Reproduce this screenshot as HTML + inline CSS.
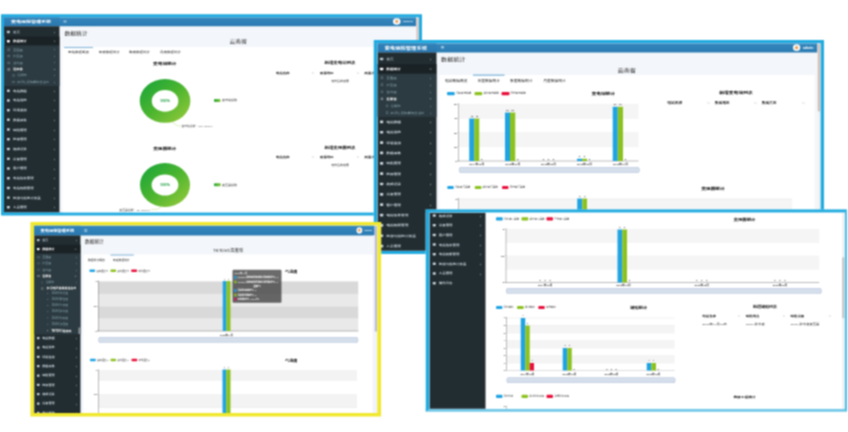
<!DOCTYPE html>
<html lang="zh-CN"><head><meta charset="utf-8"><title>变电运检管理系统</title><style>
html,body{margin:0;padding:0;}
body{width:848px;height:432px;overflow:hidden;background:#fff;position:relative;font-family:"Liberation Sans","Noto Sans CJK SC",sans-serif;}
#o{position:absolute;left:0;top:0;width:848px;height:432px;background:#fff;overflow:hidden;filter:url(#bl);}
#w{position:absolute;left:0;top:0;width:3392px;height:1728px;transform:scale(.25);transform-origin:0 0;}
.p{position:absolute;overflow:hidden;background:#fff;box-sizing:content-box;}
.r{position:absolute;display:block;}
.t{position:absolute;white-space:nowrap;line-height:1;display:block;}
</style></head>
<body>
<svg width="0" height="0" style="position:absolute"><filter id="bl" x="0" y="0" width="100%" height="100%" color-interpolation-filters="sRGB"><feConvolveMatrix order="3" kernelMatrix="1 2 1 2 4 2 1 2 1" divisor="16" edgeMode="duplicate" preserveAlpha="true"/></filter></svg>
<div id="o">
<div id="w">
<div class="p" style="left:4px;top:57px;width:1659px;height:779px;border-style:solid;border-color:#22abe0;border-width:13px 13px 13px 12px;z-index:1">
<div class="r" style="left:222.4px;top:35.2px;width:1425.6px;height:746.8px;background:#f3f6fa;"></div>
<div class="r" style="left:234px;top:118px;width:1404px;height:664px;background:#fff;"></div>
<div class="r" style="left:0px;top:-2px;width:1648.8px;height:37.2px;background:linear-gradient(#3587bd,#2b7bb2);"></div>
<div class="r" style="left:0px;top:-2px;width:222.4px;height:37.2px;background:linear-gradient(#3283b9,#2977ae);"></div>
<span class="t" style="left:28px;top:10px;font-size:15.38px;color:#fff;font-weight:bold;transform-origin:0 50%;transform:scaleX(1.3);">变电运检管理系统</span>
<div class="r" style="left:238px;top:10.72px;width:12px;height:1.76px;background:#fff;"></div>
<div class="r" style="left:238px;top:15.12px;width:12px;height:1.76px;background:#fff;"></div>
<div class="r" style="left:238px;top:19.52px;width:12px;height:1.76px;background:#fff;"></div>
<div class="r" style="left:1556.47px;top:2.61px;width:29.46px;height:26.78px;background:#fbfbfb;border-radius:50%;"></div>
<div class="r" style="left:1565.01px;top:9.3px;width:12.37px;height:12.72px;background:#eba35a;border-radius:50%;"></div>
<span class="t" style="left:1596px;top:10px;font-size:10.07px;color:#fff;font-weight:bold;transform-origin:0 50%;transform:scaleX(1.3);">admin</span>
<div class="r" style="left:1648.8px;top:-2px;width:11.2px;height:784px;background:#f1f1f1;"></div>
<div class="r" style="left:1650px;top:-0.4px;width:8.8px;height:410.4px;background:#d4bfb9;border-radius:4px;"></div>
<div class="r" style="left:0px;top:35.2px;width:222.4px;height:746.8px;background:#222d32;"></div>
<div class="r" style="left:11.73px;top:53.03px;width:11.73px;height:9.94px;background:#b8c7ce;border-radius:1.6px;"></div>
<span class="t" style="left:36.4px;top:54px;font-size:10.62px;color:#b8c7ce;transform-origin:0 50%;transform:scaleX(1.3);">首页</span>
<span class="t" style="left:201.6px;top:54px;font-size:11.68px;color:#b8c7ce;transform:translateX(-50%) scaleX(1.3);">‹</span>
<div class="r" style="left:0px;top:76.4px;width:222.4px;height:36px;background:#1a2226;"></div>
<div class="r" style="left:0px;top:76.4px;width:2.4px;height:36px;background:#3c8dbc;"></div>
<div class="r" style="left:11.73px;top:89.83px;width:11.73px;height:9.94px;background:#fff;border-radius:1.6px;"></div>
<span class="t" style="left:36.4px;top:90px;font-size:10.62px;color:#fff;font-weight:bold;transform-origin:0 50%;transform:scaleX(1.3);">数据统计</span>
<span class="t" style="left:201.6px;top:87.21px;font-size:15.18px;color:#fff;transform:translateX(-50%) rotate(-90deg);">‹</span>
<div class="r" style="left:0px;top:112.4px;width:222.4px;height:161.6px;background:#2c3b41;"></div>
<div class="r" style="left:13.16px;top:123.16px;width:10.49px;height:10.49px;background:transparent;border-radius:50%;box-shadow:inset 0 0 0 1.56px #8aa4af;"></div>
<span class="t" style="left:36.4px;top:126px;font-size:10.08px;color:#8aa4af;transform-origin:0 50%;transform:scaleX(1.3);">全国级</span>
<span class="t" style="left:201.6px;top:126px;font-size:11.09px;color:#8aa4af;transform:translateX(-50%) scaleX(1.3);">‹</span>
<div class="r" style="left:13.16px;top:149.56px;width:10.49px;height:10.49px;background:transparent;border-radius:50%;box-shadow:inset 0 0 0 1.56px #8aa4af;"></div>
<span class="t" style="left:36.4px;top:150px;font-size:10.08px;color:#8aa4af;transform-origin:0 50%;transform:scaleX(1.3);">片区级</span>
<span class="t" style="left:201.6px;top:154px;font-size:11.09px;color:#8aa4af;transform:translateX(-50%) scaleX(1.3);">‹</span>
<div class="r" style="left:13.16px;top:175.56px;width:10.49px;height:10.49px;background:transparent;border-radius:50%;box-shadow:inset 0 0 0 1.56px #8aa4af;"></div>
<span class="t" style="left:36.4px;top:178px;font-size:10.08px;color:#8aa4af;transform-origin:0 50%;transform:scaleX(1.3);">省份级</span>
<span class="t" style="left:201.6px;top:178px;font-size:11.09px;color:#8aa4af;transform:translateX(-50%) scaleX(1.3);">‹</span>
<div class="r" style="left:13.16px;top:202.76px;width:10.49px;height:10.49px;background:transparent;border-radius:50%;box-shadow:inset 0 0 0 1.56px #fff;"></div>
<span class="t" style="left:36.4px;top:202px;font-size:10.08px;color:#fff;font-weight:bold;transform-origin:0 50%;transform:scaleX(1.3);">云南省</span>
<span class="t" style="left:201.6px;top:200.79px;font-size:14.42px;color:#fff;transform:translateX(-50%) rotate(-90deg);">‹</span>
<div class="r" style="left:32.92px;top:226.92px;width:10.16px;height:10.16px;background:transparent;border-radius:50%;box-shadow:inset 0 0 0 1.52px #8aa4af;"></div>
<span class="t" style="left:52.8px;top:226px;font-size:9.77px;color:#8aa4af;transform-origin:0 50%;transform:scaleX(1.3);">昆明市</span>
<span class="t" style="left:201.6px;top:230px;font-size:10.74px;color:#8aa4af;transform:translateX(-50%) scaleX(1.3);">‹</span>
<div class="r" style="left:32.92px;top:252.92px;width:10.16px;height:10.16px;background:transparent;border-radius:50%;box-shadow:inset 0 0 0 1.52px #8aa4af;"></div>
<span class="t" style="left:52.8px;top:254px;font-size:9.77px;color:#8aa4af;transform-origin:0 50%;transform:scaleX(1.3);">红河哈尼族彝族自治州</span>
<span class="t" style="left:201.6px;top:258px;font-size:10.74px;color:#8aa4af;transform:translateX(-50%) scaleX(1.3);">‹</span>
<div class="r" style="left:11.73px;top:287.83px;width:11.73px;height:9.94px;background:#c4d0d6;border-radius:1.6px;"></div>
<span class="t" style="left:36.4px;top:290px;font-size:10.62px;color:#c4d0d6;font-weight:bold;transform-origin:0 50%;transform:scaleX(1.3);">电站数据</span>
<span class="t" style="left:201.6px;top:290px;font-size:11.68px;color:#c4d0d6;transform:translateX(-50%) scaleX(1.3);">‹</span>
<div class="r" style="left:11.73px;top:326.71px;width:11.73px;height:9.94px;background:#c4d0d6;border-radius:1.6px;"></div>
<span class="t" style="left:36.4px;top:326px;font-size:10.62px;color:#c4d0d6;font-weight:bold;transform-origin:0 50%;transform:scaleX(1.3);">电站巡检</span>
<span class="t" style="left:201.6px;top:326px;font-size:11.68px;color:#c4d0d6;transform:translateX(-50%) scaleX(1.3);">‹</span>
<div class="r" style="left:11.73px;top:365.59px;width:11.73px;height:9.94px;background:#c4d0d6;border-radius:1.6px;"></div>
<span class="t" style="left:36.4px;top:366px;font-size:10.62px;color:#c4d0d6;font-weight:bold;transform-origin:0 50%;transform:scaleX(1.3);">环境监测</span>
<span class="t" style="left:201.6px;top:366px;font-size:11.68px;color:#c4d0d6;transform:translateX(-50%) scaleX(1.3);">‹</span>
<div class="r" style="left:11.73px;top:404.47px;width:11.73px;height:9.94px;background:#c4d0d6;border-radius:1.6px;"></div>
<span class="t" style="left:36.4px;top:406px;font-size:10.62px;color:#c4d0d6;font-weight:bold;transform-origin:0 50%;transform:scaleX(1.3);">数据采集</span>
<span class="t" style="left:201.6px;top:406px;font-size:11.68px;color:#c4d0d6;transform:translateX(-50%) scaleX(1.3);">‹</span>
<div class="r" style="left:11.73px;top:443.35px;width:11.73px;height:9.94px;background:#c4d0d6;border-radius:1.6px;"></div>
<span class="t" style="left:36.4px;top:446px;font-size:10.62px;color:#c4d0d6;font-weight:bold;transform-origin:0 50%;transform:scaleX(1.3);">缺陷管理</span>
<span class="t" style="left:201.6px;top:446px;font-size:11.68px;color:#c4d0d6;transform:translateX(-50%) scaleX(1.3);">‹</span>
<div class="r" style="left:11.73px;top:482.23px;width:11.73px;height:9.94px;background:#c4d0d6;border-radius:1.6px;"></div>
<span class="t" style="left:36.4px;top:482px;font-size:10.62px;color:#c4d0d6;font-weight:bold;transform-origin:0 50%;transform:scaleX(1.3);">检修管理</span>
<span class="t" style="left:201.6px;top:482px;font-size:11.68px;color:#c4d0d6;transform:translateX(-50%) scaleX(1.3);">‹</span>
<div class="r" style="left:11.73px;top:521.11px;width:11.73px;height:9.94px;background:#c4d0d6;border-radius:1.6px;"></div>
<span class="t" style="left:36.4px;top:522px;font-size:10.62px;color:#c4d0d6;font-weight:bold;transform-origin:0 50%;transform:scaleX(1.3);">故障记录</span>
<span class="t" style="left:201.6px;top:522px;font-size:11.68px;color:#c4d0d6;transform:translateX(-50%) scaleX(1.3);">‹</span>
<div class="r" style="left:11.73px;top:559.99px;width:11.73px;height:9.94px;background:#c4d0d6;border-radius:1.6px;"></div>
<span class="t" style="left:36.4px;top:562px;font-size:10.62px;color:#c4d0d6;font-weight:bold;transform-origin:0 50%;transform:scaleX(1.3);">设备管理</span>
<span class="t" style="left:201.6px;top:562px;font-size:11.68px;color:#c4d0d6;transform:translateX(-50%) scaleX(1.3);">‹</span>
<div class="r" style="left:11.73px;top:598.87px;width:11.73px;height:9.94px;background:#c4d0d6;border-radius:1.6px;"></div>
<span class="t" style="left:36.4px;top:598px;font-size:10.62px;color:#c4d0d6;font-weight:bold;transform-origin:0 50%;transform:scaleX(1.3);">客户管理</span>
<span class="t" style="left:201.6px;top:602px;font-size:11.68px;color:#c4d0d6;transform:translateX(-50%) scaleX(1.3);">‹</span>
<div class="r" style="left:11.73px;top:637.75px;width:11.73px;height:9.94px;background:#c4d0d6;border-radius:1.6px;"></div>
<span class="t" style="left:36.4px;top:638px;font-size:10.62px;color:#c4d0d6;font-weight:bold;transform-origin:0 50%;transform:scaleX(1.3);">电站信息管理</span>
<span class="t" style="left:201.6px;top:638px;font-size:11.68px;color:#c4d0d6;transform:translateX(-50%) scaleX(1.3);">‹</span>
<div class="r" style="left:11.73px;top:676.63px;width:11.73px;height:9.94px;background:#c4d0d6;border-radius:1.6px;"></div>
<span class="t" style="left:36.4px;top:678px;font-size:10.62px;color:#c4d0d6;font-weight:bold;transform-origin:0 50%;transform:scaleX(1.3);">电站权限管理</span>
<span class="t" style="left:201.6px;top:678px;font-size:11.68px;color:#c4d0d6;transform:translateX(-50%) scaleX(1.3);">‹</span>
<div class="r" style="left:11.73px;top:715.51px;width:11.73px;height:9.94px;background:#c4d0d6;border-radius:1.6px;"></div>
<span class="t" style="left:36.4px;top:718px;font-size:10.62px;color:#c4d0d6;font-weight:bold;transform-origin:0 50%;transform:scaleX(1.3);">检测与巡检计划表</span>
<span class="t" style="left:201.6px;top:718px;font-size:11.68px;color:#c4d0d6;transform:translateX(-50%) scaleX(1.3);">‹</span>
<div class="r" style="left:11.73px;top:754.39px;width:11.73px;height:9.94px;background:#c4d0d6;border-radius:1.6px;"></div>
<span class="t" style="left:36.4px;top:754px;font-size:10.62px;color:#c4d0d6;font-weight:bold;transform-origin:0 50%;transform:scaleX(1.3);">人员管理</span>
<span class="t" style="left:201.6px;top:754px;font-size:11.68px;color:#c4d0d6;transform:translateX(-50%) scaleX(1.3);">‹</span>
<span class="t" style="left:241.6px;top:54px;font-size:17.85px;color:#1a1a1a;transform-origin:0 50%;transform:scaleX(1.3);">数据统计</span>
<span class="t" style="left:937.2px;top:86px;font-size:17.85px;color:#1a1a1a;transform:translateX(-50%) scaleX(1.3);">云南省</span>
<div class="r" style="left:240px;top:118px;width:116px;height:4px;background:#7eb2d8;"></div>
<span class="t" style="left:256px;top:134px;font-size:10.77px;color:#222;transform-origin:0 50%;transform:scaleX(1.3);">电站数据概览</span>
<span class="t" style="left:378.8px;top:134px;font-size:10.77px;color:#222;transform-origin:0 50%;transform:scaleX(1.3);">年度数据统计</span>
<span class="t" style="left:500px;top:134px;font-size:10.77px;color:#222;transform-origin:0 50%;transform:scaleX(1.3);">季度数据统计</span>
<span class="t" style="left:624px;top:134px;font-size:10.77px;color:#222;transform-origin:0 50%;transform:scaleX(1.3);">月度数据统计</span>
<span class="t" style="left:643.2px;top:178px;font-size:14.46px;color:#000;font-weight:bold;transform:translateX(-50%) scaleX(1.3);">变电站统计</span>
<svg class="r" style="left:538.8px;top:242px;width:210.4px;height:183.2px" viewBox="138.7 78 52.6 45.8" preserveAspectRatio="none"><defs><linearGradient id="g1" x1="0" y1="0" x2="1" y2="1"><stop offset="0" stop-color="#13a33a"/><stop offset="0.5" stop-color="#4cb52f"/><stop offset="1" stop-color="#9bcb3c"/></linearGradient></defs><ellipse cx="165" cy="100.9" rx="25.3" ry="21.9" fill="url(#g1)"/><ellipse cx="165" cy="100.9" rx="13.3" ry="10.8" fill="#fff"/></svg>
<span class="t" style="left:644px;top:326px;font-size:12px;color:#189a3c;font-weight:bold;transform:translateX(-50%) scaleX(1.3);">100%</span>
<div class="r" style="left:840px;top:325.6px;width:26px;height:12px;background:linear-gradient(90deg,#22a83a,#8cc63f);border-radius:4px;"></div>
<span class="t" style="left:872px;top:326px;font-size:9.23px;color:#333;transform-origin:0 50%;transform:scaleX(1.3);">变电站总数</span>
<svg class="r" style="left:644px;top:410px;width:200px;height:32px" viewBox="165 120 50 8" preserveAspectRatio="none"><polyline points="172,122.3 178,126 181,126" fill="none" stroke="#a8d46a" stroke-width="0.4"/></svg>
<span class="t" style="left:710px;top:430px;font-size:8.62px;color:#444;transform-origin:0 50%;transform:scaleX(1.3);">变电站总数：100 (100%)</span>
<span class="t" style="left:1344px;top:174px;font-size:13.69px;color:#000;font-weight:bold;transform:translateX(-50%) scaleX(1.3);">新增变电站列表</span>
<span class="t" style="left:1086.8px;top:218px;font-size:10.62px;color:#111;font-weight:bold;transform-origin:0 50%;transform:scaleX(1.3);">电站名称</span>
<span class="t" style="left:1236px;top:218px;font-size:8.49px;color:#bbb;transform:translateX(-50%) scaleX(1.3);">⇅</span>
<span class="t" style="left:1264px;top:218px;font-size:10.62px;color:#111;font-weight:bold;transform-origin:0 50%;transform:scaleX(1.3);">所属地区</span>
<span class="t" style="left:1416px;top:218px;font-size:8.49px;color:#bbb;transform:translateX(-50%) scaleX(1.3);">⇅</span>
<span class="t" style="left:1442px;top:218px;font-size:10.62px;color:#111;font-weight:bold;transform-origin:0 50%;transform:scaleX(1.3);">所属片区</span>
<span class="t" style="left:1344px;top:250px;font-size:9.08px;color:#222;transform:translateX(-50%) scaleX(1.3);">无符合的结果</span>
<span class="t" style="left:643.2px;top:518px;font-size:14.15px;color:#000;font-weight:bold;transform:translateX(-50%) scaleX(1.3);">变压器统计</span>
<svg class="r" style="left:540px;top:578px;width:208px;height:184px" viewBox="139 162 52 46" preserveAspectRatio="none"><defs><linearGradient id="g2" x1="0" y1="0" x2="1" y2="1"><stop offset="0" stop-color="#13a33a"/><stop offset="0.5" stop-color="#4cb52f"/><stop offset="1" stop-color="#9bcb3c"/></linearGradient></defs><ellipse cx="165" cy="185" rx="25" ry="22" fill="url(#g2)"/><ellipse cx="165" cy="185" rx="13.4" ry="10.5" fill="#fff"/></svg>
<span class="t" style="left:644px;top:662px;font-size:12px;color:#189a3c;font-weight:bold;transform:translateX(-50%) scaleX(1.3);">100%</span>
<div class="r" style="left:840px;top:662.8px;width:26.8px;height:12px;background:linear-gradient(90deg,#22a83a,#8cc63f);border-radius:4px;"></div>
<span class="t" style="left:872px;top:666px;font-size:9.23px;color:#333;transform-origin:0 50%;transform:scaleX(1.3);">变压器总数</span>
<svg class="r" style="left:544px;top:730px;width:120px;height:48px" viewBox="140 200 30 12" preserveAspectRatio="none"><polyline points="150.5,209.7 157,209.4 162,206.3" fill="none" stroke="#a8d46a" stroke-width="0.4"/></svg>
<span class="t" style="left:584px;top:766px;font-size:8.92px;color:#444;transform-origin:100% 50%;transform:translateX(-100%) scaleX(1.3);">变压器总数：50 (100%)</span>
<span class="t" style="left:1344px;top:514px;font-size:13.69px;color:#000;font-weight:bold;transform:translateX(-50%) scaleX(1.3);">新增变压器列表</span>
<span class="t" style="left:1086.8px;top:554px;font-size:10.62px;color:#111;font-weight:bold;transform-origin:0 50%;transform:scaleX(1.3);">电站名称</span>
<span class="t" style="left:1236px;top:554px;font-size:8.49px;color:#bbb;transform:translateX(-50%) scaleX(1.3);">⇅</span>
<span class="t" style="left:1264px;top:554px;font-size:10.62px;color:#111;font-weight:bold;transform-origin:0 50%;transform:scaleX(1.3);">所属地区</span>
<span class="t" style="left:1416px;top:554px;font-size:8.49px;color:#bbb;transform:translateX(-50%) scaleX(1.3);">⇅</span>
<span class="t" style="left:1442px;top:554px;font-size:10.62px;color:#111;font-weight:bold;transform-origin:0 50%;transform:scaleX(1.3);">所属片区</span>
<span class="t" style="left:1344px;top:586px;font-size:9.08px;color:#222;transform:translateX(-50%) scaleX(1.3);">无符合的结果</span>
</div>
<div class="p" style="left:1495px;top:160px;width:1773px;height:830px;border-style:solid;border-color:#22abe0;border-width:13px 14px 13px 14px;z-index:2">
<div class="r" style="left:237px;top:37px;width:1523.6px;height:794px;background:#f3f6fa;"></div>
<div class="r" style="left:249px;top:127px;width:1500px;height:704px;background:#fff;"></div>
<div class="r" style="left:0.6px;top:-0.2px;width:1760px;height:37.2px;background:linear-gradient(#3587bd,#2b7bb2);"></div>
<div class="r" style="left:0.6px;top:-0.2px;width:236.4px;height:37.2px;background:linear-gradient(#3283b9,#2977ae);"></div>
<span class="t" style="left:28.6px;top:11px;font-size:16.38px;color:#fff;font-weight:bold;transform-origin:0 50%;transform:scaleX(1.3);">变电运检管理系统</span>
<div class="r" style="left:255px;top:12.23px;width:12px;height:1.76px;background:#fff;"></div>
<div class="r" style="left:255px;top:16.92px;width:12px;height:1.76px;background:#fff;"></div>
<div class="r" style="left:255px;top:21.61px;width:12px;height:1.76px;background:#fff;"></div>
<div class="r" style="left:1662.67px;top:4.41px;width:29.46px;height:26.78px;background:#fbfbfb;border-radius:50%;"></div>
<div class="r" style="left:1671.21px;top:11.1px;width:12.37px;height:12.72px;background:#eba35a;border-radius:50%;"></div>
<span class="t" style="left:1703.4px;top:15px;font-size:10.85px;color:#fff;font-weight:bold;transform-origin:0 50%;transform:scaleX(1.3);">admin</span>
<div class="r" style="left:1760.6px;top:-0.2px;width:12.4px;height:831.2px;background:#f1f1f1;"></div>
<div class="r" style="left:1761.8px;top:1.4px;width:10px;height:271.6px;background:#d4bfb9;border-radius:4px;"></div>
<div class="r" style="left:0.6px;top:37px;width:236.4px;height:794px;background:#222d32;"></div>
<div class="r" style="left:11.11px;top:57.67px;width:12.58px;height:10.66px;background:#b8c7ce;border-radius:1.6px;"></div>
<span class="t" style="left:35.8px;top:59px;font-size:11.38px;color:#b8c7ce;transform-origin:0 50%;transform:scaleX(1.3);">首页</span>
<span class="t" style="left:214.2px;top:59px;font-size:12.52px;color:#b8c7ce;transform:translateX(-50%) scaleX(1.3);">‹</span>
<div class="r" style="left:0.6px;top:83px;width:236.4px;height:38.8px;background:#1a2226;"></div>
<div class="r" style="left:0.6px;top:83px;width:2.4px;height:38.8px;background:#3c8dbc;"></div>
<div class="r" style="left:11.11px;top:97.67px;width:12.58px;height:10.66px;background:#fff;border-radius:1.6px;"></div>
<span class="t" style="left:35.8px;top:99px;font-size:11.38px;color:#fff;font-weight:bold;transform-origin:0 50%;transform:scaleX(1.3);">数据统计</span>
<span class="t" style="left:214.2px;top:94.86px;font-size:16.28px;color:#fff;transform:translateX(-50%) rotate(-90deg);">‹</span>
<div class="r" style="left:0.6px;top:121.8px;width:236.4px;height:173.2px;background:#2c3b41;"></div>
<div class="r" style="left:12.98px;top:131.78px;width:11.25px;height:11.25px;background:transparent;border-radius:50%;box-shadow:inset 0 0 0 1.68px #8aa4af;"></div>
<span class="t" style="left:35.8px;top:135px;font-size:10.82px;color:#8aa4af;transform-origin:0 50%;transform:scaleX(1.3);">全国级</span>
<span class="t" style="left:214.2px;top:139px;font-size:11.9px;color:#8aa4af;transform:translateX(-50%) scaleX(1.3);">‹</span>
<div class="r" style="left:12.98px;top:160.18px;width:11.25px;height:11.25px;background:transparent;border-radius:50%;box-shadow:inset 0 0 0 1.68px #8aa4af;"></div>
<span class="t" style="left:35.8px;top:163px;font-size:10.82px;color:#8aa4af;transform-origin:0 50%;transform:scaleX(1.3);">片区级</span>
<span class="t" style="left:214.2px;top:167px;font-size:11.9px;color:#8aa4af;transform:translateX(-50%) scaleX(1.3);">‹</span>
<div class="r" style="left:12.98px;top:188.58px;width:11.25px;height:11.25px;background:transparent;border-radius:50%;box-shadow:inset 0 0 0 1.68px #8aa4af;"></div>
<span class="t" style="left:35.8px;top:191px;font-size:10.82px;color:#8aa4af;transform-origin:0 50%;transform:scaleX(1.3);">省份级</span>
<span class="t" style="left:214.2px;top:195px;font-size:11.9px;color:#8aa4af;transform:translateX(-50%) scaleX(1.3);">‹</span>
<div class="r" style="left:12.98px;top:216.98px;width:11.25px;height:11.25px;background:transparent;border-radius:50%;box-shadow:inset 0 0 0 1.68px #fff;"></div>
<span class="t" style="left:35.8px;top:219px;font-size:10.82px;color:#fff;font-weight:bold;transform-origin:0 50%;transform:scaleX(1.3);">云南省</span>
<span class="t" style="left:214.2px;top:214.87px;font-size:15.47px;color:#fff;transform:translateX(-50%) rotate(-90deg);">‹</span>
<div class="r" style="left:33.95px;top:244.75px;width:10.89px;height:10.89px;background:transparent;border-radius:50%;box-shadow:inset 0 0 0 1.64px #8aa4af;"></div>
<span class="t" style="left:53.4px;top:247px;font-size:10.47px;color:#8aa4af;transform-origin:0 50%;transform:scaleX(1.3);">昆明市</span>
<span class="t" style="left:214.2px;top:251px;font-size:11.52px;color:#8aa4af;transform:translateX(-50%) scaleX(1.3);">‹</span>
<div class="r" style="left:33.95px;top:271.95px;width:10.89px;height:10.89px;background:transparent;border-radius:50%;box-shadow:inset 0 0 0 1.64px #8aa4af;"></div>
<span class="t" style="left:53.4px;top:275px;font-size:10.47px;color:#8aa4af;transform-origin:0 50%;transform:scaleX(1.3);">红河哈尼族彝族自治州</span>
<span class="t" style="left:214.2px;top:279px;font-size:11.52px;color:#8aa4af;transform:translateX(-50%) scaleX(1.3);">‹</span>
<div class="r" style="left:11.11px;top:309.27px;width:12.58px;height:10.66px;background:#c4d0d6;border-radius:1.6px;"></div>
<span class="t" style="left:35.8px;top:311px;font-size:11.38px;color:#c4d0d6;font-weight:bold;transform-origin:0 50%;transform:scaleX(1.3);">电站数据</span>
<span class="t" style="left:214.2px;top:311px;font-size:12.52px;color:#c4d0d6;transform:translateX(-50%) scaleX(1.3);">‹</span>
<div class="r" style="left:11.11px;top:350.67px;width:12.58px;height:10.66px;background:#c4d0d6;border-radius:1.6px;"></div>
<span class="t" style="left:35.8px;top:351px;font-size:11.38px;color:#c4d0d6;font-weight:bold;transform-origin:0 50%;transform:scaleX(1.3);">电站巡检</span>
<span class="t" style="left:214.2px;top:351px;font-size:12.52px;color:#c4d0d6;transform:translateX(-50%) scaleX(1.3);">‹</span>
<div class="r" style="left:11.11px;top:392.07px;width:12.58px;height:10.66px;background:#c4d0d6;border-radius:1.6px;"></div>
<span class="t" style="left:35.8px;top:395px;font-size:11.38px;color:#c4d0d6;font-weight:bold;transform-origin:0 50%;transform:scaleX(1.3);">环境监测</span>
<span class="t" style="left:214.2px;top:395px;font-size:12.52px;color:#c4d0d6;transform:translateX(-50%) scaleX(1.3);">‹</span>
<div class="r" style="left:11.11px;top:433.47px;width:12.58px;height:10.66px;background:#c4d0d6;border-radius:1.6px;"></div>
<span class="t" style="left:35.8px;top:435px;font-size:11.38px;color:#c4d0d6;font-weight:bold;transform-origin:0 50%;transform:scaleX(1.3);">数据采集</span>
<span class="t" style="left:214.2px;top:435px;font-size:12.52px;color:#c4d0d6;transform:translateX(-50%) scaleX(1.3);">‹</span>
<div class="r" style="left:11.11px;top:474.87px;width:12.58px;height:10.66px;background:#c4d0d6;border-radius:1.6px;"></div>
<span class="t" style="left:35.8px;top:475px;font-size:11.38px;color:#c4d0d6;font-weight:bold;transform-origin:0 50%;transform:scaleX(1.3);">缺陷管理</span>
<span class="t" style="left:214.2px;top:475px;font-size:12.52px;color:#c4d0d6;transform:translateX(-50%) scaleX(1.3);">‹</span>
<div class="r" style="left:11.11px;top:516.27px;width:12.58px;height:10.66px;background:#c4d0d6;border-radius:1.6px;"></div>
<span class="t" style="left:35.8px;top:519px;font-size:11.38px;color:#c4d0d6;font-weight:bold;transform-origin:0 50%;transform:scaleX(1.3);">检修管理</span>
<span class="t" style="left:214.2px;top:519px;font-size:12.52px;color:#c4d0d6;transform:translateX(-50%) scaleX(1.3);">‹</span>
<div class="r" style="left:11.11px;top:557.67px;width:12.58px;height:10.66px;background:#c4d0d6;border-radius:1.6px;"></div>
<span class="t" style="left:35.8px;top:559px;font-size:11.38px;color:#c4d0d6;font-weight:bold;transform-origin:0 50%;transform:scaleX(1.3);">故障记录</span>
<span class="t" style="left:214.2px;top:559px;font-size:12.52px;color:#c4d0d6;transform:translateX(-50%) scaleX(1.3);">‹</span>
<div class="r" style="left:11.11px;top:599.07px;width:12.58px;height:10.66px;background:#c4d0d6;border-radius:1.6px;"></div>
<span class="t" style="left:35.8px;top:599px;font-size:11.38px;color:#c4d0d6;font-weight:bold;transform-origin:0 50%;transform:scaleX(1.3);">设备管理</span>
<span class="t" style="left:214.2px;top:599px;font-size:12.52px;color:#c4d0d6;transform:translateX(-50%) scaleX(1.3);">‹</span>
<div class="r" style="left:11.11px;top:640.47px;width:12.58px;height:10.66px;background:#c4d0d6;border-radius:1.6px;"></div>
<span class="t" style="left:35.8px;top:643px;font-size:11.38px;color:#c4d0d6;font-weight:bold;transform-origin:0 50%;transform:scaleX(1.3);">客户管理</span>
<span class="t" style="left:214.2px;top:643px;font-size:12.52px;color:#c4d0d6;transform:translateX(-50%) scaleX(1.3);">‹</span>
<div class="r" style="left:11.11px;top:681.87px;width:12.58px;height:10.66px;background:#c4d0d6;border-radius:1.6px;"></div>
<span class="t" style="left:35.8px;top:683px;font-size:11.38px;color:#c4d0d6;font-weight:bold;transform-origin:0 50%;transform:scaleX(1.3);">电站信息管理</span>
<span class="t" style="left:214.2px;top:683px;font-size:12.52px;color:#c4d0d6;transform:translateX(-50%) scaleX(1.3);">‹</span>
<div class="r" style="left:11.11px;top:723.27px;width:12.58px;height:10.66px;background:#c4d0d6;border-radius:1.6px;"></div>
<span class="t" style="left:35.8px;top:723px;font-size:11.38px;color:#c4d0d6;font-weight:bold;transform-origin:0 50%;transform:scaleX(1.3);">电站权限管理</span>
<span class="t" style="left:214.2px;top:723px;font-size:12.52px;color:#c4d0d6;transform:translateX(-50%) scaleX(1.3);">‹</span>
<div class="r" style="left:11.11px;top:764.67px;width:12.58px;height:10.66px;background:#c4d0d6;border-radius:1.6px;"></div>
<span class="t" style="left:35.8px;top:767px;font-size:11.38px;color:#c4d0d6;font-weight:bold;transform-origin:0 50%;transform:scaleX(1.3);">检测与巡检计划表</span>
<span class="t" style="left:214.2px;top:767px;font-size:12.52px;color:#c4d0d6;transform:translateX(-50%) scaleX(1.3);">‹</span>
<div class="r" style="left:11.11px;top:806.07px;width:12.58px;height:10.66px;background:#c4d0d6;border-radius:1.6px;"></div>
<span class="t" style="left:35.8px;top:807px;font-size:11.38px;color:#c4d0d6;font-weight:bold;transform-origin:0 50%;transform:scaleX(1.3);">人员管理</span>
<span class="t" style="left:214.2px;top:807px;font-size:12.52px;color:#c4d0d6;transform:translateX(-50%) scaleX(1.3);">‹</span>
<span class="t" style="left:255px;top:55px;font-size:19.08px;color:#1a1a1a;transform-origin:0 50%;transform:scaleX(1.3);">数据统计</span>
<span class="t" style="left:997.8px;top:99px;font-size:19.08px;color:#1a1a1a;transform:translateX(-50%) scaleX(1.3);">云南省</span>
<div class="r" style="left:383px;top:125.4px;width:126.4px;height:4.4px;background:#7eb2d8;"></div>
<span class="t" style="left:271px;top:147px;font-size:11.54px;color:#222;transform-origin:0 50%;transform:scaleX(1.3);">电站数据概览</span>
<span class="t" style="left:401px;top:147px;font-size:11.54px;color:#222;transform-origin:0 50%;transform:scaleX(1.3);">年度数据统计</span>
<span class="t" style="left:531px;top:147px;font-size:11.54px;color:#222;transform-origin:0 50%;transform:scaleX(1.3);">季度数据统计</span>
<span class="t" style="left:663.8px;top:147px;font-size:11.54px;color:#222;transform-origin:0 50%;transform:scaleX(1.3);">月度数据统计</span>
<div class="r" style="left:278.6px;top:195px;width:31.2px;height:12.8px;background:#1ea3e3;border-radius:3.84px;"></div>
<span class="t" style="left:314.6px;top:195px;font-size:7.85px;color:#222;transform-origin:0 50%;transform:scaleX(1.3);">当年变电站数</span>
<div class="r" style="left:388.6px;top:195px;width:31.2px;height:12.8px;background:#8cc21f;border-radius:3.84px;"></div>
<span class="t" style="left:424.6px;top:195px;font-size:7.85px;color:#222;transform-origin:0 50%;transform:scaleX(1.3);">总计变电站数</span>
<div class="r" style="left:497.4px;top:195px;width:31.2px;height:12.8px;background:#e8103c;border-radius:3.84px;"></div>
<span class="t" style="left:533.4px;top:195px;font-size:7.85px;color:#222;transform-origin:0 50%;transform:scaleX(1.3);">异常变电站数</span>
<span class="t" style="left:904.2px;top:195px;font-size:14.46px;color:#000;font-weight:bold;transform:translateX(-50%) scaleX(1.3);">变电站统计</span>
<div class="r" style="left:326.2px;top:243.8px;width:718.4px;height:56.8px;background:#f5f5f5;background-image:radial-gradient(circle,#dedede 1.6px,transparent 2.2px);background-size:6.8px 6.8px;"></div>
<div class="r" style="left:326.2px;top:357.4px;width:718.4px;height:56.8px;background:#f5f5f5;background-image:radial-gradient(circle,#dedede 1.6px,transparent 2.2px);background-size:6.8px 6.8px;"></div>
<div class="r" style="left:326.2px;top:243.2px;width:718.4px;height:1.2px;background:#e4e4e4;"></div>
<div class="r" style="left:326.2px;top:300px;width:718.4px;height:1.2px;background:#e4e4e4;"></div>
<div class="r" style="left:326.2px;top:356.8px;width:718.4px;height:1.2px;background:#e4e4e4;"></div>
<div class="r" style="left:326.2px;top:413.6px;width:718.4px;height:1.2px;background:#e4e4e4;"></div>
<div class="r" style="left:325.4px;top:239.8px;width:1.6px;height:231.2px;background:#777;"></div>
<div class="r" style="left:322.2px;top:470.2px;width:722.4px;height:1.6px;background:#777;"></div>
<div class="r" style="left:321.4px;top:243.2px;width:4.8px;height:1.2px;background:#777;"></div>
<span class="t" style="left:319px;top:239px;font-size:8px;color:#222;font-weight:bold;transform-origin:100% 50%;transform:translateX(-100%) scaleX(1.3);">60</span>
<div class="r" style="left:321.4px;top:300px;width:4.8px;height:1.2px;background:#777;"></div>
<span class="t" style="left:319px;top:295px;font-size:8px;color:#222;font-weight:bold;transform-origin:100% 50%;transform:translateX(-100%) scaleX(1.3);">45</span>
<div class="r" style="left:321.4px;top:356.8px;width:4.8px;height:1.2px;background:#777;"></div>
<span class="t" style="left:319px;top:355px;font-size:8px;color:#222;font-weight:bold;transform-origin:100% 50%;transform:translateX(-100%) scaleX(1.3);">30</span>
<div class="r" style="left:321.4px;top:413.6px;width:4.8px;height:1.2px;background:#777;"></div>
<span class="t" style="left:319px;top:411px;font-size:8px;color:#222;font-weight:bold;transform-origin:100% 50%;transform:translateX(-100%) scaleX(1.3);">15</span>
<div class="r" style="left:321.4px;top:470.4px;width:4.8px;height:1.2px;background:#777;"></div>
<span class="t" style="left:319px;top:467px;font-size:8px;color:#222;font-weight:bold;transform-origin:100% 50%;transform:translateX(-100%) scaleX(1.3);">0</span>
<div class="r" style="left:367.64px;top:301px;width:20px;height:170px;background:#1ea3e3;"></div>
<span class="t" style="left:377.64px;top:287px;font-size:8px;color:#333;font-weight:bold;transform:translateX(-50%) scaleX(1.3);">45</span>
<div class="r" style="left:387.64px;top:301px;width:20.4px;height:170px;background:#8cc21f;"></div>
<span class="t" style="left:397.84px;top:287px;font-size:8px;color:#333;font-weight:bold;transform:translateX(-50%) scaleX(1.3);">45</span>
<span class="t" style="left:418.04px;top:459px;font-size:8px;color:#222;font-weight:bold;transform:translateX(-50%) scaleX(1.3);">0</span>
<span class="t" style="left:398.04px;top:479px;font-size:8.62px;color:#222;font-weight:bold;transform:translateX(-50%) scaleX(1.3);">2014年12月</span>
<div class="r" style="left:511.32px;top:277px;width:20px;height:194px;background:#1ea3e3;"></div>
<span class="t" style="left:521.32px;top:263px;font-size:8px;color:#333;font-weight:bold;transform:translateX(-50%) scaleX(1.3);">51</span>
<div class="r" style="left:531.32px;top:277px;width:20.4px;height:194px;background:#8cc21f;"></div>
<span class="t" style="left:541.52px;top:263px;font-size:8px;color:#333;font-weight:bold;transform:translateX(-50%) scaleX(1.3);">51</span>
<span class="t" style="left:561.72px;top:459px;font-size:8px;color:#222;font-weight:bold;transform:translateX(-50%) scaleX(1.3);">0</span>
<span class="t" style="left:541.72px;top:479px;font-size:8.62px;color:#222;font-weight:bold;transform:translateX(-50%) scaleX(1.3);">2015年01月</span>
<div class="r" style="left:655px;top:471px;width:20px;height:0px;background:#1ea3e3;"></div>
<span class="t" style="left:665px;top:459px;font-size:8px;color:#333;font-weight:bold;transform:translateX(-50%) scaleX(1.3);">0</span>
<div class="r" style="left:675px;top:471px;width:20.4px;height:0px;background:#8cc21f;"></div>
<span class="t" style="left:685.2px;top:459px;font-size:8px;color:#333;font-weight:bold;transform:translateX(-50%) scaleX(1.3);">0</span>
<span class="t" style="left:705.4px;top:459px;font-size:8px;color:#222;font-weight:bold;transform:translateX(-50%) scaleX(1.3);">0</span>
<span class="t" style="left:685.4px;top:479px;font-size:8.62px;color:#222;font-weight:bold;transform:translateX(-50%) scaleX(1.3);">2015年02月</span>
<div class="r" style="left:798.68px;top:461.8px;width:20px;height:9.2px;background:#1ea3e3;"></div>
<span class="t" style="left:808.68px;top:447px;font-size:8px;color:#333;font-weight:bold;transform:translateX(-50%) scaleX(1.3);">2</span>
<div class="r" style="left:818.68px;top:461.8px;width:20.4px;height:9.2px;background:#8cc21f;"></div>
<span class="t" style="left:828.88px;top:447px;font-size:8px;color:#333;font-weight:bold;transform:translateX(-50%) scaleX(1.3);">2</span>
<span class="t" style="left:849.08px;top:459px;font-size:8px;color:#222;font-weight:bold;transform:translateX(-50%) scaleX(1.3);">0</span>
<span class="t" style="left:829.08px;top:479px;font-size:8.62px;color:#222;font-weight:bold;transform:translateX(-50%) scaleX(1.3);">2015年03月</span>
<div class="r" style="left:942.36px;top:254.2px;width:20px;height:216.8px;background:#1ea3e3;"></div>
<span class="t" style="left:952.36px;top:239px;font-size:8px;color:#333;font-weight:bold;transform:translateX(-50%) scaleX(1.3);">57</span>
<div class="r" style="left:962.36px;top:254.2px;width:20.4px;height:216.8px;background:#8cc21f;"></div>
<span class="t" style="left:972.56px;top:239px;font-size:8px;color:#333;font-weight:bold;transform:translateX(-50%) scaleX(1.3);">57</span>
<span class="t" style="left:992.76px;top:459px;font-size:8px;color:#222;font-weight:bold;transform:translateX(-50%) scaleX(1.3);">0</span>
<span class="t" style="left:972.76px;top:479px;font-size:8.62px;color:#222;font-weight:bold;transform:translateX(-50%) scaleX(1.3);">2015年04月</span>
<div class="r" style="left:326.2px;top:495px;width:723.6px;height:24px;background:#d5dfec;border-radius:12px;box-shadow:inset 0 0 0 2px #b9c8dc;"></div>
<span class="t" style="left:1435px;top:191px;font-size:14.77px;color:#000;font-weight:bold;transform:translateX(-50%) scaleX(1.3);">新增变电站列表</span>
<span class="t" style="left:1159.8px;top:235px;font-size:11.54px;color:#111;font-weight:bold;transform-origin:0 50%;transform:scaleX(1.3);">电站名称</span>
<span class="t" style="left:1325px;top:235px;font-size:9.23px;color:#bbb;transform:translateX(-50%) scaleX(1.3);">⇅</span>
<span class="t" style="left:1349.8px;top:235px;font-size:11.54px;color:#111;font-weight:bold;transform-origin:0 50%;transform:scaleX(1.3);">所属地区</span>
<span class="t" style="left:1513px;top:235px;font-size:9.23px;color:#bbb;transform:translateX(-50%) scaleX(1.3);">⇅</span>
<span class="t" style="left:1537.8px;top:235px;font-size:11.54px;color:#111;font-weight:bold;transform-origin:0 50%;transform:scaleX(1.3);">所属片区</span>
<span class="t" style="left:1705px;top:235px;font-size:9.23px;color:#bbb;transform:translateX(-50%) scaleX(1.3);">⇅</span>
<div class="r" style="left:279.8px;top:570.6px;width:26.4px;height:12.8px;background:#1ea3e3;border-radius:3.84px;"></div>
<span class="t" style="left:311px;top:571px;font-size:7.85px;color:#222;transform-origin:0 50%;transform:scaleX(1.3);">当年变压器数</span>
<div class="r" style="left:390.2px;top:570.6px;width:26.4px;height:12.8px;background:#8cc21f;border-radius:3.84px;"></div>
<span class="t" style="left:421.4px;top:571px;font-size:7.85px;color:#222;transform-origin:0 50%;transform:scaleX(1.3);">总计变压器数</span>
<div class="r" style="left:499px;top:570.6px;width:26px;height:12.8px;background:#e8103c;border-radius:3.84px;"></div>
<span class="t" style="left:529.8px;top:571px;font-size:7.85px;color:#222;transform-origin:0 50%;transform:scaleX(1.3);">异常变压器数</span>
<span class="t" style="left:1343px;top:575px;font-size:14.46px;color:#000;font-weight:bold;transform:translateX(-50%) scaleX(1.3);">变压器统计</span>
<div class="r" style="left:326.2px;top:623px;width:1332.8px;height:56.8px;background:#f5f5f5;background-image:radial-gradient(circle,#dedede 1.6px,transparent 2.2px);background-size:6.8px 6.8px;"></div>
<div class="r" style="left:326.2px;top:736.6px;width:1332.8px;height:56.8px;background:#f5f5f5;background-image:radial-gradient(circle,#dedede 1.6px,transparent 2.2px);background-size:6.8px 6.8px;"></div>
<div class="r" style="left:326.2px;top:622.4px;width:1332.8px;height:1.2px;background:#e4e4e4;"></div>
<div class="r" style="left:326.2px;top:679.2px;width:1332.8px;height:1.2px;background:#e4e4e4;"></div>
<div class="r" style="left:326.2px;top:736px;width:1332.8px;height:1.2px;background:#e4e4e4;"></div>
<div class="r" style="left:326.2px;top:792.8px;width:1332.8px;height:1.2px;background:#e4e4e4;"></div>
<div class="r" style="left:325.4px;top:619px;width:1.6px;height:248px;background:#777;"></div>
<div class="r" style="left:322.2px;top:866.2px;width:1336.8px;height:1.6px;background:#777;"></div>
<div class="r" style="left:321.4px;top:622.4px;width:4.8px;height:1.2px;background:#777;"></div>
<span class="t" style="left:319px;top:619px;font-size:8px;color:#222;font-weight:bold;transform-origin:100% 50%;transform:translateX(-100%) scaleX(1.3);">3</span>
<div class="r" style="left:800.2px;top:621.4px;width:18.8px;height:229.6px;background:#1ea3e3;"></div>
<span class="t" style="left:809.6px;top:607px;font-size:8px;color:#333;font-weight:bold;transform:translateX(-50%) scaleX(1.3);">3</span>
<div class="r" style="left:820.2px;top:621.4px;width:18.8px;height:229.6px;background:#8cc21f;"></div>
<span class="t" style="left:829.6px;top:607px;font-size:8px;color:#333;font-weight:bold;transform:translateX(-50%) scaleX(1.3);">3</span>
</div>
<div class="p" style="left:121px;top:888px;width:1373px;height:750px;border-style:solid;border-color:#f0e82e;border-width:14px 16px 14px 15px;z-index:3">
<div class="r" style="left:186.4px;top:40px;width:1176px;height:714px;background:#f3f6fa;"></div>
<div class="r" style="left:198px;top:116px;width:1157.2px;height:638px;background:#fff;"></div>
<div class="r" style="left:0.8px;top:0px;width:1362.4px;height:40px;background:linear-gradient(#3587bd,#2b7bb2);"></div>
<div class="r" style="left:0.8px;top:0px;width:185.6px;height:40px;background:linear-gradient(#3283b9,#2977ae);"></div>
<span class="t" style="left:26px;top:14px;font-size:15.04px;color:#fff;font-weight:bold;transform-origin:0 50%;transform:scaleX(1.12);">变电运检管理系统</span>
<div class="r" style="left:200.8px;top:14.81px;width:12px;height:1.76px;background:#fff;"></div>
<div class="r" style="left:200.8px;top:18.52px;width:12px;height:1.76px;background:#fff;"></div>
<div class="r" style="left:200.8px;top:22.23px;width:12px;height:1.76px;background:#fff;"></div>
<div class="r" style="left:1289.79px;top:7px;width:22.82px;height:24.8px;background:#fbfbfb;border-radius:50%;"></div>
<div class="r" style="left:1296.41px;top:13.2px;width:9.58px;height:11.78px;background:#eba35a;border-radius:50%;"></div>
<span class="t" style="left:1322px;top:14px;font-size:9.09px;color:#fff;font-weight:bold;transform-origin:0 50%;transform:scaleX(1.12);">admin</span>
<div class="r" style="left:1355.2px;top:40px;width:18.8px;height:714px;background:#f3f3fb;"></div>
<div class="r" style="left:1363.2px;top:0px;width:10.8px;height:42px;background:#f6f6fc;"></div>
<div class="r" style="left:1362.8px;top:1.2px;width:9.6px;height:424px;background:#bdbdd6;border-radius:4px;"></div>
<div class="r" style="left:0.8px;top:40px;width:185.6px;height:714px;background:#222d32;"></div>
<div class="r" style="left:11.53px;top:54.34px;width:10.54px;height:8.93px;background:#b8c7ce;border-radius:1.6px;"></div>
<span class="t" style="left:33.2px;top:54px;font-size:11.07px;color:#b8c7ce;transform-origin:0 50%;transform:scaleX(1.12);">首页</span>
<span class="t" style="left:168.8px;top:54px;font-size:12.18px;color:#b8c7ce;transform:translateX(-50%) scaleX(1.12);">‹</span>
<div class="r" style="left:0.8px;top:76.8px;width:185.6px;height:35.6px;background:#1a2226;"></div>
<div class="r" style="left:0.8px;top:76.8px;width:2.4px;height:35.6px;background:#3c8dbc;"></div>
<div class="r" style="left:11.53px;top:90.34px;width:10.54px;height:8.93px;background:#fff;border-radius:1.6px;"></div>
<span class="t" style="left:33.2px;top:90px;font-size:11.07px;color:#fff;font-weight:bold;transform-origin:0 50%;transform:scaleX(1.12);">数据统计</span>
<span class="t" style="left:168.8px;top:87.98px;font-size:13.64px;color:#fff;transform:translateX(-50%) rotate(-90deg);">‹</span>
<div class="r" style="left:0.8px;top:112.4px;width:185.6px;height:322.4px;background:#2c3b41;"></div>
<div class="r" style="left:13.29px;top:122.49px;width:9.42px;height:9.42px;background:transparent;border-radius:50%;box-shadow:inset 0 0 0 1.4px #8aa4af;"></div>
<span class="t" style="left:33.2px;top:122px;font-size:10.52px;color:#8aa4af;transform-origin:0 50%;transform:scaleX(1.12);">全国级</span>
<span class="t" style="left:168.8px;top:126px;font-size:11.57px;color:#8aa4af;transform:translateX(-50%) scaleX(1.12);">‹</span>
<div class="r" style="left:13.29px;top:146.89px;width:9.42px;height:9.42px;background:transparent;border-radius:50%;box-shadow:inset 0 0 0 1.4px #8aa4af;"></div>
<span class="t" style="left:33.2px;top:146px;font-size:10.52px;color:#8aa4af;transform-origin:0 50%;transform:scaleX(1.12);">片区级</span>
<span class="t" style="left:168.8px;top:150px;font-size:11.57px;color:#8aa4af;transform:translateX(-50%) scaleX(1.12);">‹</span>
<div class="r" style="left:13.29px;top:172.09px;width:9.42px;height:9.42px;background:transparent;border-radius:50%;box-shadow:inset 0 0 0 1.4px #8aa4af;"></div>
<span class="t" style="left:33.2px;top:174px;font-size:10.52px;color:#8aa4af;transform-origin:0 50%;transform:scaleX(1.12);">省份级</span>
<span class="t" style="left:168.8px;top:178px;font-size:11.57px;color:#8aa4af;transform:translateX(-50%) scaleX(1.12);">‹</span>
<div class="r" style="left:13.29px;top:198.09px;width:9.42px;height:9.42px;background:transparent;border-radius:50%;box-shadow:inset 0 0 0 1.4px #fff;"></div>
<span class="t" style="left:33.2px;top:198px;font-size:10.52px;color:#fff;font-weight:bold;transform-origin:0 50%;transform:scaleX(1.12);">云南省</span>
<span class="t" style="left:168.8px;top:196.32px;font-size:12.96px;color:#fff;transform:translateX(-50%) rotate(-90deg);">‹</span>
<div class="r" style="left:29.14px;top:223.54px;width:8.93px;height:8.93px;background:transparent;border-radius:50%;box-shadow:inset 0 0 0 1.32px #8aa4af;"></div>
<span class="t" style="left:46.8px;top:222px;font-size:9.96px;color:#8aa4af;transform-origin:0 50%;transform:scaleX(1.12);">昆明市</span>
<span class="t" style="left:168.8px;top:226px;font-size:10.96px;color:#8aa4af;transform:translateX(-50%) scaleX(1.12);">‹</span>
<div class="r" style="left:28.88px;top:247.28px;width:9.44px;height:9.44px;background:transparent;border-radius:50%;box-shadow:inset 0 0 0 1.4px #fff;"></div>
<span class="t" style="left:50.8px;top:246px;font-size:10.54px;color:#fff;font-weight:bold;transform-origin:0 50%;transform:scaleX(1.12);">红河哈尼族彝族自治州</span>
<div class="r" style="left:53.34px;top:268.94px;width:3.71px;height:3.71px;background:#8aa4af;border-radius:50%;"></div>
<span class="t" style="left:70.4px;top:266px;font-size:10.36px;color:#8aa4af;transform-origin:0 50%;transform:scaleX(1.12);">110kV开远变</span>
<div class="r" style="left:53.34px;top:293.34px;width:3.71px;height:3.71px;background:#8aa4af;border-radius:50%;"></div>
<span class="t" style="left:70.4px;top:290px;font-size:10.36px;color:#8aa4af;transform-origin:0 50%;transform:scaleX(1.12);">110kV蒙自变</span>
<div class="r" style="left:53.34px;top:318.14px;width:3.71px;height:3.71px;background:#8aa4af;border-radius:50%;"></div>
<span class="t" style="left:70.4px;top:314px;font-size:10.36px;color:#8aa4af;transform-origin:0 50%;transform:scaleX(1.12);">110kV个旧变</span>
<div class="r" style="left:53.34px;top:341.74px;width:3.71px;height:3.71px;background:#8aa4af;border-radius:50%;"></div>
<span class="t" style="left:70.4px;top:338px;font-size:10.36px;color:#8aa4af;transform-origin:0 50%;transform:scaleX(1.12);">110kV建水变</span>
<div class="r" style="left:53.34px;top:367.74px;width:3.71px;height:3.71px;background:#8aa4af;border-radius:50%;"></div>
<span class="t" style="left:70.4px;top:366px;font-size:10.36px;color:#8aa4af;transform-origin:0 50%;transform:scaleX(1.12);">110kV弥勒变</span>
<div class="r" style="left:53.34px;top:392.54px;width:3.71px;height:3.71px;background:#8aa4af;border-radius:50%;"></div>
<span class="t" style="left:70.4px;top:390px;font-size:10.36px;color:#8aa4af;transform-origin:0 50%;transform:scaleX(1.12);">110kV泸西变</span>
<div class="r" style="left:53.34px;top:419.34px;width:3.71px;height:3.71px;background:#fff;border-radius:50%;"></div>
<span class="t" style="left:70.4px;top:418px;font-size:10.36px;color:#fff;font-weight:bold;transform-origin:0 50%;transform:scaleX(1.12);">TKTDV1温度库</span>
<div class="r" style="left:177.6px;top:408px;width:7.2px;height:26px;background:#8f989c;"></div>
<div class="r" style="left:11.53px;top:446.34px;width:10.54px;height:8.93px;background:#c4d0d6;border-radius:1.6px;"></div>
<span class="t" style="left:33.2px;top:446px;font-size:11.07px;color:#c4d0d6;font-weight:bold;transform-origin:0 50%;transform:scaleX(1.12);">电站数据</span>
<span class="t" style="left:168.8px;top:446px;font-size:12.18px;color:#c4d0d6;transform:translateX(-50%) scaleX(1.12);">‹</span>
<div class="r" style="left:11.53px;top:483.66px;width:10.54px;height:8.93px;background:#c4d0d6;border-radius:1.6px;"></div>
<span class="t" style="left:33.2px;top:482px;font-size:11.07px;color:#c4d0d6;font-weight:bold;transform-origin:0 50%;transform:scaleX(1.12);">电站巡检</span>
<span class="t" style="left:168.8px;top:486px;font-size:12.18px;color:#c4d0d6;transform:translateX(-50%) scaleX(1.12);">‹</span>
<div class="r" style="left:11.53px;top:520.98px;width:10.54px;height:8.93px;background:#c4d0d6;border-radius:1.6px;"></div>
<span class="t" style="left:33.2px;top:522px;font-size:11.07px;color:#c4d0d6;font-weight:bold;transform-origin:0 50%;transform:scaleX(1.12);">环境监测</span>
<span class="t" style="left:168.8px;top:522px;font-size:12.18px;color:#c4d0d6;transform:translateX(-50%) scaleX(1.12);">‹</span>
<div class="r" style="left:11.53px;top:558.3px;width:10.54px;height:8.93px;background:#c4d0d6;border-radius:1.6px;"></div>
<span class="t" style="left:33.2px;top:558px;font-size:11.07px;color:#c4d0d6;font-weight:bold;transform-origin:0 50%;transform:scaleX(1.12);">数据采集</span>
<span class="t" style="left:168.8px;top:558px;font-size:12.18px;color:#c4d0d6;transform:translateX(-50%) scaleX(1.12);">‹</span>
<div class="r" style="left:11.53px;top:595.62px;width:10.54px;height:8.93px;background:#c4d0d6;border-radius:1.6px;"></div>
<span class="t" style="left:33.2px;top:594px;font-size:11.07px;color:#c4d0d6;font-weight:bold;transform-origin:0 50%;transform:scaleX(1.12);">缺陷管理</span>
<span class="t" style="left:168.8px;top:598px;font-size:12.18px;color:#c4d0d6;transform:translateX(-50%) scaleX(1.12);">‹</span>
<div class="r" style="left:11.53px;top:632.94px;width:10.54px;height:8.93px;background:#c4d0d6;border-radius:1.6px;"></div>
<span class="t" style="left:33.2px;top:634px;font-size:11.07px;color:#c4d0d6;font-weight:bold;transform-origin:0 50%;transform:scaleX(1.12);">检修管理</span>
<span class="t" style="left:168.8px;top:634px;font-size:12.18px;color:#c4d0d6;transform:translateX(-50%) scaleX(1.12);">‹</span>
<div class="r" style="left:11.53px;top:670.26px;width:10.54px;height:8.93px;background:#c4d0d6;border-radius:1.6px;"></div>
<span class="t" style="left:33.2px;top:670px;font-size:11.07px;color:#c4d0d6;font-weight:bold;transform-origin:0 50%;transform:scaleX(1.12);">故障记录</span>
<span class="t" style="left:168.8px;top:670px;font-size:12.18px;color:#c4d0d6;transform:translateX(-50%) scaleX(1.12);">‹</span>
<div class="r" style="left:11.53px;top:707.58px;width:10.54px;height:8.93px;background:#c4d0d6;border-radius:1.6px;"></div>
<span class="t" style="left:33.2px;top:706px;font-size:11.07px;color:#c4d0d6;font-weight:bold;transform-origin:0 50%;transform:scaleX(1.12);">设备管理</span>
<span class="t" style="left:168.8px;top:710px;font-size:12.18px;color:#c4d0d6;transform:translateX(-50%) scaleX(1.12);">‹</span>
<div class="r" style="left:11.53px;top:744.9px;width:10.54px;height:8.93px;background:#c4d0d6;border-radius:1.6px;"></div>
<span class="t" style="left:33.2px;top:746px;font-size:11.07px;color:#c4d0d6;font-weight:bold;transform-origin:0 50%;transform:scaleX(1.12);">客户管理</span>
<span class="t" style="left:168.8px;top:746px;font-size:12.18px;color:#c4d0d6;transform:translateX(-50%) scaleX(1.12);">‹</span>
<span class="t" style="left:203.6px;top:58px;font-size:16.79px;color:#1a1a1a;transform-origin:0 50%;transform:scaleX(1.12);">数据统计</span>
<span class="t" style="left:777.2px;top:90px;font-size:16.07px;color:#1a1a1a;transform:translateX(-50%) scaleX(1.12);">TKTDV1温度库</span>
<div class="r" style="left:306px;top:116.4px;width:92.8px;height:3.6px;background:#7eb2d8;"></div>
<span class="t" style="left:216px;top:134px;font-size:10px;color:#222;transform-origin:0 50%;transform:scaleX(1.12);">数据统计概览</span>
<span class="t" style="left:316px;top:134px;font-size:10px;color:#222;transform-origin:0 50%;transform:scaleX(1.12);">年度数据统计</span>
<div class="r" style="left:222px;top:176px;width:22px;height:10.4px;background:#1ea3e3;border-radius:3.12px;"></div>
<span class="t" style="left:248.8px;top:178px;font-size:8.39px;color:#222;transform-origin:0 50%;transform:scaleX(1.12);">最高温度℃</span>
<div class="r" style="left:306px;top:176px;width:22px;height:10.4px;background:#8cc21f;border-radius:3.12px;"></div>
<span class="t" style="left:332.8px;top:178px;font-size:8.39px;color:#222;transform-origin:0 50%;transform:scaleX(1.12);">最低温度℃</span>
<div class="r" style="left:388.8px;top:176px;width:23.2px;height:10.4px;background:#e8103c;border-radius:3.12px;"></div>
<span class="t" style="left:416.8px;top:178px;font-size:8.39px;color:#222;transform-origin:0 50%;transform:scaleX(1.12);">平均温度℃</span>
<span class="t" style="left:1028.8px;top:178px;font-size:14.29px;color:#000;font-weight:bold;transform:translateX(-50%) scaleX(1.12);">气温度</span>
<div class="r" style="left:256.8px;top:224px;width:1040px;height:50px;background:#d9d9d9;background-image:radial-gradient(circle,#c9c9c9 1.6px,transparent 2.2px);background-size:6.8px 6.8px;"></div>
<div class="r" style="left:256.8px;top:274px;width:1040px;height:49.2px;background:#e9e9e9;background-image:radial-gradient(circle,#f4f4f4 1.6px,transparent 2.2px);background-size:6.8px 6.8px;"></div>
<div class="r" style="left:256.8px;top:323.2px;width:1040px;height:49.6px;background:#d9d9d9;background-image:radial-gradient(circle,#c9c9c9 1.6px,transparent 2.2px);background-size:6.8px 6.8px;"></div>
<div class="r" style="left:256.8px;top:372.8px;width:1040px;height:49.2px;background:#e9e9e9;background-image:radial-gradient(circle,#f4f4f4 1.6px,transparent 2.2px);background-size:6.8px 6.8px;"></div>
<div class="r" style="left:256.8px;top:223.4px;width:1040px;height:1.2px;background:#e4e4e4;"></div>
<div class="r" style="left:256.8px;top:273.4px;width:1040px;height:1.2px;background:#e4e4e4;"></div>
<div class="r" style="left:256.8px;top:322.6px;width:1040px;height:1.2px;background:#e4e4e4;"></div>
<div class="r" style="left:256.8px;top:372.2px;width:1040px;height:1.2px;background:#e4e4e4;"></div>
<div class="r" style="left:256px;top:220px;width:1.6px;height:202px;background:#777;"></div>
<div class="r" style="left:252.8px;top:421.2px;width:1044px;height:1.6px;background:#777;"></div>
<div class="r" style="left:252px;top:223.4px;width:4.8px;height:1.2px;background:#777;"></div>
<span class="t" style="left:249.6px;top:222px;font-size:7.14px;color:#222;font-weight:bold;transform-origin:100% 50%;transform:translateX(-100%) scaleX(1.12);">1</span>
<div class="r" style="left:252px;top:322.6px;width:4.8px;height:1.2px;background:#777;"></div>
<span class="t" style="left:249.6px;top:322px;font-size:7.14px;color:#222;font-weight:bold;transform-origin:100% 50%;transform:translateX(-100%) scaleX(1.12);">0.5</span>
<div class="r" style="left:252px;top:421.4px;width:4.8px;height:1.2px;background:#777;"></div>
<span class="t" style="left:249.6px;top:422px;font-size:7.14px;color:#222;font-weight:bold;transform-origin:100% 50%;transform:translateX(-100%) scaleX(1.12);">0</span>
<div class="r" style="left:754.8px;top:222px;width:15.6px;height:200px;background:#1ea3e3;"></div>
<span class="t" style="left:762.6px;top:214px;font-size:7.14px;color:#333;font-weight:bold;transform:translateX(-50%) scaleX(1.12);">1</span>
<div class="r" style="left:770.4px;top:222px;width:15.6px;height:200px;background:#8cc21f;"></div>
<span class="t" style="left:778.2px;top:214px;font-size:7.14px;color:#333;font-weight:bold;transform:translateX(-50%) scaleX(1.12);">1</span>
<span class="t" style="left:770.4px;top:434px;font-size:8.57px;color:#222;font-weight:bold;transform:translateX(-50%) scaleX(1.12);">2015年04月</span>
<div class="r" style="left:794.4px;top:177.2px;width:195.2px;height:131.6px;background:rgba(50,50,50,0.72);border-radius:4.8px;"></div>
<span class="t" style="left:802px;top:186px;font-size:8.57px;color:#fff;transform-origin:0 50%;transform:scaleX(1.12);">2015年04月</span>
<div class="r" style="left:801.2px;top:203.2px;width:8.4px;height:9.6px;background:#1ea3e3;"></div>
<span class="t" style="left:813.6px;top:202px;font-size:8.21px;color:#fff;font-weight:bold;transform-origin:0 50%;transform:scaleX(1.12);">TKTDV1温度库最高温度(最高温度℃): 1</span>
<div class="r" style="left:801.2px;top:221.2px;width:8.4px;height:9.6px;background:#8cc21f;"></div>
<span class="t" style="left:813.6px;top:222px;font-size:8.21px;color:#fff;font-weight:bold;transform-origin:0 50%;transform:scaleX(1.12);">TKTDV1温度库最低温度(最低温度℃): 1</span>
<span class="t" style="left:892px;top:238px;font-size:8.39px;color:#fff;font-weight:bold;transform:translateX(-50%) scaleX(1.12);">最高℃</span>
<div class="r" style="left:801.2px;top:255.2px;width:8.4px;height:9.6px;background:#1ea3e3;"></div>
<span class="t" style="left:813.6px;top:254px;font-size:8.21px;color:#fff;font-weight:bold;transform-origin:0 50%;transform:scaleX(1.12);">当前最高温度℃: 1</span>
<div class="r" style="left:801.2px;top:273.2px;width:8.4px;height:9.6px;background:#8cc21f;"></div>
<span class="t" style="left:813.6px;top:274px;font-size:8.21px;color:#fff;font-weight:bold;transform-origin:0 50%;transform:scaleX(1.12);">当前最低温度℃: 1</span>
<div class="r" style="left:801.2px;top:290px;width:8.4px;height:9.6px;background:#d4145a;"></div>
<span class="t" style="left:813.6px;top:290px;font-size:8.21px;color:#fff;font-weight:bold;transform-origin:0 50%;transform:scaleX(1.12);">平均温度℃: 1 (1.0℃)</span>
<div class="r" style="left:256.8px;top:446px;width:1040px;height:22.8px;background:#d5dfec;border-radius:11.4px;box-shadow:inset 0 0 0 2px #b9c8dc;"></div>
<div class="r" style="left:224px;top:532.8px;width:22.8px;height:10.4px;background:#1ea3e3;border-radius:3.12px;"></div>
<span class="t" style="left:251.6px;top:534px;font-size:8.39px;color:#222;transform-origin:0 50%;transform:scaleX(1.12);">最高湿度%</span>
<div class="r" style="left:305.6px;top:532.8px;width:22.4px;height:10.4px;background:#8cc21f;border-radius:3.12px;"></div>
<span class="t" style="left:332.8px;top:534px;font-size:8.39px;color:#222;transform-origin:0 50%;transform:scaleX(1.12);">最低湿度%</span>
<div class="r" style="left:390.4px;top:532.8px;width:22.4px;height:10.4px;background:#e8103c;border-radius:3.12px;"></div>
<span class="t" style="left:417.6px;top:534px;font-size:8.39px;color:#222;transform-origin:0 50%;transform:scaleX(1.12);">平均湿度%</span>
<span class="t" style="left:1028.8px;top:534px;font-size:14.29px;color:#000;font-weight:bold;transform:translateX(-50%) scaleX(1.12);">气湿度</span>
<div class="r" style="left:258px;top:578.8px;width:1034px;height:41.6px;background:#f3f3f3;background-image:radial-gradient(circle,#dedede 1.6px,transparent 2.2px);background-size:6.8px 6.8px;"></div>
<div class="r" style="left:258px;top:674.8px;width:1034px;height:53.2px;background:#f3f3f3;background-image:radial-gradient(circle,#dedede 1.6px,transparent 2.2px);background-size:6.8px 6.8px;"></div>
<div class="r" style="left:258px;top:578.2px;width:1034px;height:1.2px;background:#e4e4e4;"></div>
<div class="r" style="left:258px;top:619.8px;width:1034px;height:1.2px;background:#e4e4e4;"></div>
<div class="r" style="left:258px;top:674.2px;width:1034px;height:1.2px;background:#e4e4e4;"></div>
<div class="r" style="left:258px;top:727.4px;width:1034px;height:1.2px;background:#e4e4e4;"></div>
<div class="r" style="left:257.2px;top:574.8px;width:1.6px;height:203.2px;background:#777;"></div>
<div class="r" style="left:254px;top:777.2px;width:1038px;height:1.6px;background:#777;"></div>
<div class="r" style="left:253.2px;top:578.2px;width:4.8px;height:1.2px;background:#777;"></div>
<span class="t" style="left:250.8px;top:578px;font-size:7.14px;color:#222;font-weight:bold;transform-origin:100% 50%;transform:translateX(-100%) scaleX(1.12);">1</span>
<div class="r" style="left:253.2px;top:674.2px;width:4.8px;height:1.2px;background:#777;"></div>
<span class="t" style="left:250.8px;top:674px;font-size:7.14px;color:#222;font-weight:bold;transform-origin:100% 50%;transform:translateX(-100%) scaleX(1.12);">0.5</span>
<div class="r" style="left:753.6px;top:576px;width:15.6px;height:178px;background:#1ea3e3;"></div>
<span class="t" style="left:761.4px;top:566px;font-size:7.14px;color:#333;font-weight:bold;transform:translateX(-50%) scaleX(1.12);">1</span>
<div class="r" style="left:769.2px;top:576px;width:16.4px;height:178px;background:#8cc21f;"></div>
<span class="t" style="left:777.4px;top:566px;font-size:7.14px;color:#333;font-weight:bold;transform:translateX(-50%) scaleX(1.12);">1</span>
</div>
<div class="p" style="left:1702px;top:837px;width:1660px;height:785px;border-style:solid;border-color:#22abe0 #4dbce5 #72c8e8 #22abe0;border-width:13px 10px 12px 16px;z-index:4">
<div class="r" style="left:224.4px;top:0.8px;width:1437.6px;height:785.2px;background:#fff;"></div>
<div class="r" style="left:-0.4px;top:0.8px;width:224.8px;height:785.2px;background:#222d32;"></div>
<div class="r" style="left:1650px;top:0.8px;width:11.2px;height:785.2px;background:#f1f1f1;"></div>
<div class="r" style="left:1651.2px;top:179.2px;width:9.2px;height:244px;background:#c1c1c1;border-radius:4px;"></div>
<div class="r" style="left:12.93px;top:7.43px;width:11.73px;height:9.94px;background:#c4d0d6;border-radius:1.6px;"></div>
<span class="t" style="left:36.8px;top:10px;font-size:10.62px;color:#c4d0d6;font-weight:bold;transform-origin:0 50%;transform:scaleX(1.3);">故障记录</span>
<span class="t" style="left:204.8px;top:10px;font-size:11.68px;color:#c4d0d6;transform:translateX(-50%) scaleX(1.3);">‹</span>
<div class="r" style="left:12.93px;top:46.03px;width:11.73px;height:9.94px;background:#c4d0d6;border-radius:1.6px;"></div>
<span class="t" style="left:36.8px;top:46px;font-size:10.62px;color:#c4d0d6;font-weight:bold;transform-origin:0 50%;transform:scaleX(1.3);">设备管理</span>
<span class="t" style="left:204.8px;top:46px;font-size:11.68px;color:#c4d0d6;transform:translateX(-50%) scaleX(1.3);">‹</span>
<div class="r" style="left:12.93px;top:84.63px;width:11.73px;height:9.94px;background:#c4d0d6;border-radius:1.6px;"></div>
<span class="t" style="left:36.8px;top:86px;font-size:10.62px;color:#c4d0d6;font-weight:bold;transform-origin:0 50%;transform:scaleX(1.3);">客户管理</span>
<span class="t" style="left:204.8px;top:86px;font-size:11.68px;color:#c4d0d6;transform:translateX(-50%) scaleX(1.3);">‹</span>
<div class="r" style="left:12.93px;top:123.23px;width:11.73px;height:9.94px;background:#c4d0d6;border-radius:1.6px;"></div>
<span class="t" style="left:36.8px;top:126px;font-size:10.62px;color:#c4d0d6;font-weight:bold;transform-origin:0 50%;transform:scaleX(1.3);">电站信息管理</span>
<span class="t" style="left:204.8px;top:126px;font-size:11.68px;color:#c4d0d6;transform:translateX(-50%) scaleX(1.3);">‹</span>
<div class="r" style="left:12.93px;top:161.83px;width:11.73px;height:9.94px;background:#c4d0d6;border-radius:1.6px;"></div>
<span class="t" style="left:36.8px;top:162px;font-size:10.62px;color:#c4d0d6;font-weight:bold;transform-origin:0 50%;transform:scaleX(1.3);">电站权限管理</span>
<span class="t" style="left:204.8px;top:162px;font-size:11.68px;color:#c4d0d6;transform:translateX(-50%) scaleX(1.3);">‹</span>
<div class="r" style="left:12.93px;top:200.43px;width:11.73px;height:9.94px;background:#c4d0d6;border-radius:1.6px;"></div>
<span class="t" style="left:36.8px;top:202px;font-size:10.62px;color:#c4d0d6;font-weight:bold;transform-origin:0 50%;transform:scaleX(1.3);">检测与巡检计划表</span>
<span class="t" style="left:204.8px;top:202px;font-size:11.68px;color:#c4d0d6;transform:translateX(-50%) scaleX(1.3);">‹</span>
<div class="r" style="left:12.93px;top:239.03px;width:11.73px;height:9.94px;background:#c4d0d6;border-radius:1.6px;"></div>
<span class="t" style="left:36.8px;top:238px;font-size:10.62px;color:#c4d0d6;font-weight:bold;transform-origin:0 50%;transform:scaleX(1.3);">人员管理</span>
<span class="t" style="left:204.8px;top:242px;font-size:11.68px;color:#c4d0d6;transform:translateX(-50%) scaleX(1.3);">‹</span>
<div class="r" style="left:12.93px;top:277.63px;width:11.73px;height:9.94px;background:#c4d0d6;border-radius:1.6px;"></div>
<span class="t" style="left:36.8px;top:278px;font-size:10.62px;color:#c4d0d6;font-weight:bold;transform-origin:0 50%;transform:scaleX(1.3);">操作日志</span>
<div class="r" style="left:266.4px;top:19.2px;width:26.8px;height:12.8px;background:#1ea3e3;border-radius:3.84px;"></div>
<span class="t" style="left:298px;top:22px;font-size:7.69px;color:#222;transform-origin:0 50%;transform:scaleX(1.3);">当年变压器数</span>
<div class="r" style="left:368px;top:19.2px;width:27.2px;height:12.8px;background:#8cc21f;border-radius:3.84px;"></div>
<span class="t" style="left:400px;top:22px;font-size:7.69px;color:#222;transform-origin:0 50%;transform:scaleX(1.3);">总计变压器数</span>
<div class="r" style="left:467.6px;top:19.2px;width:26.4px;height:12.8px;background:#e8103c;border-radius:3.84px;"></div>
<span class="t" style="left:498.8px;top:22px;font-size:7.69px;color:#222;transform-origin:0 50%;transform:scaleX(1.3);">异常变压器数</span>
<span class="t" style="left:1259.6px;top:22px;font-size:13.54px;color:#000;font-weight:bold;transform:translateX(-50%) scaleX(1.3);">变压器统计</span>
<div class="r" style="left:306px;top:67.2px;width:1252.8px;height:53.2px;background:#f5f5f5;background-image:radial-gradient(circle,#dedede 1.6px,transparent 2.2px);background-size:6.8px 6.8px;"></div>
<div class="r" style="left:306px;top:173.6px;width:1252.8px;height:53.2px;background:#f5f5f5;background-image:radial-gradient(circle,#dedede 1.6px,transparent 2.2px);background-size:6.8px 6.8px;"></div>
<div class="r" style="left:306px;top:66.6px;width:1252.8px;height:1.2px;background:#e4e4e4;"></div>
<div class="r" style="left:306px;top:119.8px;width:1252.8px;height:1.2px;background:#e4e4e4;"></div>
<div class="r" style="left:306px;top:173px;width:1252.8px;height:1.2px;background:#e4e4e4;"></div>
<div class="r" style="left:306px;top:226.2px;width:1252.8px;height:1.2px;background:#e4e4e4;"></div>
<div class="r" style="left:305.2px;top:63.2px;width:1.6px;height:216.8px;background:#777;"></div>
<div class="r" style="left:302px;top:279.2px;width:1256.8px;height:1.6px;background:#777;"></div>
<div class="r" style="left:301.2px;top:66.6px;width:4.8px;height:1.2px;background:#777;"></div>
<span class="t" style="left:298.8px;top:62px;font-size:8px;color:#222;font-weight:bold;transform-origin:100% 50%;transform:translateX(-100%) scaleX(1.3);">3</span>
<div class="r" style="left:301.2px;top:173px;width:4.8px;height:1.2px;background:#777;"></div>
<span class="t" style="left:298.8px;top:170px;font-size:8px;color:#222;font-weight:bold;transform-origin:100% 50%;transform:translateX(-100%) scaleX(1.3);">1.5</span>
<div class="r" style="left:301.2px;top:279.4px;width:4.8px;height:1.2px;background:#777;"></div>
<span class="t" style="left:298.8px;top:274px;font-size:8px;color:#222;font-weight:bold;transform-origin:100% 50%;transform:translateX(-100%) scaleX(1.3);">0</span>
<span class="t" style="left:462.6px;top:286px;font-size:8.31px;color:#222;font-weight:bold;transform:translateX(-50%) scaleX(1.3);">2014年12月</span>
<span class="t" style="left:442.6px;top:266px;font-size:8px;color:#222;font-weight:bold;transform:translateX(-50%) scaleX(1.3);">0</span>
<span class="t" style="left:462.6px;top:266px;font-size:8px;color:#222;font-weight:bold;transform:translateX(-50%) scaleX(1.3);">0</span>
<span class="t" style="left:482.6px;top:266px;font-size:8px;color:#222;font-weight:bold;transform:translateX(-50%) scaleX(1.3);">0</span>
<span class="t" style="left:775.8px;top:286px;font-size:8.31px;color:#222;font-weight:bold;transform:translateX(-50%) scaleX(1.3);">2015年01月</span>
<span class="t" style="left:1089px;top:286px;font-size:8.31px;color:#222;font-weight:bold;transform:translateX(-50%) scaleX(1.3);">2015年02月</span>
<span class="t" style="left:1069px;top:266px;font-size:8px;color:#222;font-weight:bold;transform:translateX(-50%) scaleX(1.3);">0</span>
<span class="t" style="left:1089px;top:266px;font-size:8px;color:#222;font-weight:bold;transform:translateX(-50%) scaleX(1.3);">0</span>
<span class="t" style="left:1109px;top:266px;font-size:8px;color:#222;font-weight:bold;transform:translateX(-50%) scaleX(1.3);">0</span>
<span class="t" style="left:1402.2px;top:286px;font-size:8.31px;color:#222;font-weight:bold;transform:translateX(-50%) scaleX(1.3);">2015年03月</span>
<span class="t" style="left:1382.2px;top:266px;font-size:8px;color:#222;font-weight:bold;transform:translateX(-50%) scaleX(1.3);">0</span>
<span class="t" style="left:1402.2px;top:266px;font-size:8px;color:#222;font-weight:bold;transform:translateX(-50%) scaleX(1.3);">0</span>
<span class="t" style="left:1422.2px;top:266px;font-size:8px;color:#222;font-weight:bold;transform:translateX(-50%) scaleX(1.3);">0</span>
<div class="r" style="left:752px;top:68px;width:18.8px;height:212px;background:#1ea3e3;"></div>
<span class="t" style="left:761.4px;top:54px;font-size:8px;color:#333;font-weight:bold;transform:translateX(-50%) scaleX(1.3);">3</span>
<div class="r" style="left:770.8px;top:68px;width:19.2px;height:212px;background:#8cc21f;"></div>
<span class="t" style="left:780.4px;top:54px;font-size:8px;color:#333;font-weight:bold;transform:translateX(-50%) scaleX(1.3);">3</span>
<span class="t" style="left:800px;top:266px;font-size:8px;color:#222;font-weight:bold;transform:translateX(-50%) scaleX(1.3);">0</span>
<div class="r" style="left:306px;top:302px;width:1263.2px;height:22.8px;background:#d5dfec;border-radius:11.4px;box-shadow:inset 0 0 0 2px #b9c8dc;"></div>
<div class="r" style="left:265.6px;top:373.6px;width:26px;height:12.8px;background:#1ea3e3;border-radius:3.84px;"></div>
<span class="t" style="left:296.4px;top:374px;font-size:7.69px;color:#222;transform-origin:0 50%;transform:scaleX(1.3);">当年缺陷</span>
<div class="r" style="left:349.6px;top:373.6px;width:27.2px;height:12.8px;background:#8cc21f;border-radius:3.84px;"></div>
<span class="t" style="left:381.6px;top:374px;font-size:7.69px;color:#222;transform-origin:0 50%;transform:scaleX(1.3);">总计缺陷</span>
<div class="r" style="left:434.8px;top:373.6px;width:26.4px;height:12.8px;background:#e8103c;border-radius:3.84px;"></div>
<span class="t" style="left:466px;top:374px;font-size:7.69px;color:#222;transform-origin:0 50%;transform:scaleX(1.3);">紧急缺陷</span>
<span class="t" style="left:837.2px;top:374px;font-size:13.08px;color:#000;font-weight:bold;transform:translateX(-50%) scaleX(1.3);">缺陷统计</span>
<div class="r" style="left:308px;top:452.06px;width:672.4px;height:30.06px;background:#f4f4f4;background-image:radial-gradient(circle,#dedede 1.6px,transparent 2.2px);background-size:6.8px 6.8px;"></div>
<div class="r" style="left:308px;top:512.18px;width:672.4px;height:30.06px;background:#f4f4f4;background-image:radial-gradient(circle,#dedede 1.6px,transparent 2.2px);background-size:6.8px 6.8px;"></div>
<div class="r" style="left:308px;top:572.3px;width:672.4px;height:30.06px;background:#f4f4f4;background-image:radial-gradient(circle,#dedede 1.6px,transparent 2.2px);background-size:6.8px 6.8px;"></div>
<div class="r" style="left:308px;top:421.4px;width:672.4px;height:1.2px;background:#e4e4e4;"></div>
<div class="r" style="left:308px;top:451.46px;width:672.4px;height:1.2px;background:#e4e4e4;"></div>
<div class="r" style="left:308px;top:481.52px;width:672.4px;height:1.2px;background:#e4e4e4;"></div>
<div class="r" style="left:308px;top:511.58px;width:672.4px;height:1.2px;background:#e4e4e4;"></div>
<div class="r" style="left:308px;top:541.64px;width:672.4px;height:1.2px;background:#e4e4e4;"></div>
<div class="r" style="left:308px;top:571.7px;width:672.4px;height:1.2px;background:#e4e4e4;"></div>
<div class="r" style="left:308px;top:601.76px;width:672.4px;height:1.2px;background:#e4e4e4;"></div>
<div class="r" style="left:307.2px;top:418px;width:1.6px;height:214.4px;background:#777;"></div>
<div class="r" style="left:304px;top:631.6px;width:676.4px;height:1.6px;background:#777;"></div>
<div class="r" style="left:303.2px;top:421.4px;width:4.8px;height:1.2px;background:#777;"></div>
<span class="t" style="left:300.8px;top:418px;font-size:6.15px;color:#222;font-weight:bold;transform-origin:100% 50%;transform:translateX(-100%) scaleX(1.3);">7</span>
<div class="r" style="left:303.2px;top:451.46px;width:4.8px;height:1.2px;background:#777;"></div>
<span class="t" style="left:300.8px;top:450px;font-size:6.15px;color:#222;font-weight:bold;transform-origin:100% 50%;transform:translateX(-100%) scaleX(1.3);">6</span>
<div class="r" style="left:303.2px;top:481.52px;width:4.8px;height:1.2px;background:#777;"></div>
<span class="t" style="left:300.8px;top:482px;font-size:6.15px;color:#222;font-weight:bold;transform-origin:100% 50%;transform:translateX(-100%) scaleX(1.3);">5</span>
<div class="r" style="left:303.2px;top:511.58px;width:4.8px;height:1.2px;background:#777;"></div>
<span class="t" style="left:300.8px;top:510px;font-size:6.15px;color:#222;font-weight:bold;transform-origin:100% 50%;transform:translateX(-100%) scaleX(1.3);">4</span>
<div class="r" style="left:303.2px;top:541.64px;width:4.8px;height:1.2px;background:#777;"></div>
<span class="t" style="left:300.8px;top:542px;font-size:6.15px;color:#222;font-weight:bold;transform-origin:100% 50%;transform:translateX(-100%) scaleX(1.3);">3</span>
<div class="r" style="left:303.2px;top:571.7px;width:4.8px;height:1.2px;background:#777;"></div>
<span class="t" style="left:300.8px;top:570px;font-size:6.15px;color:#222;font-weight:bold;transform-origin:100% 50%;transform:translateX(-100%) scaleX(1.3);">2</span>
<div class="r" style="left:303.2px;top:601.76px;width:4.8px;height:1.2px;background:#777;"></div>
<span class="t" style="left:300.8px;top:602px;font-size:6.15px;color:#222;font-weight:bold;transform-origin:100% 50%;transform:translateX(-100%) scaleX(1.3);">1</span>
<div class="r" style="left:303.2px;top:631.82px;width:4.8px;height:1.2px;background:#777;"></div>
<span class="t" style="left:300.8px;top:630px;font-size:6.15px;color:#222;font-weight:bold;transform-origin:100% 50%;transform:translateX(-100%) scaleX(1.3);">0</span>
<div class="r" style="left:364.85px;top:421.98px;width:18px;height:210.42px;background:#1ea3e3;"></div>
<span class="t" style="left:373.85px;top:410px;font-size:6.15px;color:#333;font-weight:bold;transform:translateX(-50%) scaleX(1.3);">7</span>
<div class="r" style="left:382.85px;top:452.04px;width:18.4px;height:180.36px;background:#8cc21f;"></div>
<span class="t" style="left:392.05px;top:442px;font-size:6.15px;color:#333;font-weight:bold;transform:translateX(-50%) scaleX(1.3);">6</span>
<div class="r" style="left:401.25px;top:602.34px;width:17.2px;height:30.06px;background:#e8103c;"></div>
<span class="t" style="left:409.85px;top:590px;font-size:6.15px;color:#333;font-weight:bold;transform:translateX(-50%) scaleX(1.3);">1</span>
<div class="r" style="left:532.95px;top:542.22px;width:18px;height:90.18px;background:#1ea3e3;"></div>
<span class="t" style="left:541.95px;top:530px;font-size:6.15px;color:#333;font-weight:bold;transform:translateX(-50%) scaleX(1.3);">3</span>
<div class="r" style="left:550.95px;top:542.22px;width:18.4px;height:90.18px;background:#8cc21f;"></div>
<span class="t" style="left:560.15px;top:530px;font-size:6.15px;color:#333;font-weight:bold;transform:translateX(-50%) scaleX(1.3);">3</span>
<span class="t" style="left:578.55px;top:622px;font-size:7.38px;color:#222;font-weight:bold;transform:translateX(-50%) scaleX(1.3);">0</span>
<span class="t" style="left:710.05px;top:622px;font-size:7.38px;color:#222;font-weight:bold;transform:translateX(-50%) scaleX(1.3);">0</span>
<span class="t" style="left:728.25px;top:622px;font-size:7.38px;color:#222;font-weight:bold;transform:translateX(-50%) scaleX(1.3);">0</span>
<span class="t" style="left:746.65px;top:622px;font-size:7.38px;color:#222;font-weight:bold;transform:translateX(-50%) scaleX(1.3);">0</span>
<div class="r" style="left:869.15px;top:602.34px;width:18px;height:30.06px;background:#1ea3e3;"></div>
<span class="t" style="left:878.15px;top:590px;font-size:6.15px;color:#333;font-weight:bold;transform:translateX(-50%) scaleX(1.3);">1</span>
<div class="r" style="left:887.15px;top:602.34px;width:18.4px;height:30.06px;background:#8cc21f;"></div>
<span class="t" style="left:896.35px;top:590px;font-size:6.15px;color:#333;font-weight:bold;transform:translateX(-50%) scaleX(1.3);">1</span>
<span class="t" style="left:914.75px;top:622px;font-size:7.38px;color:#222;font-weight:bold;transform:translateX(-50%) scaleX(1.3);">0</span>
<span class="t" style="left:392.05px;top:642px;font-size:8px;color:#222;font-weight:bold;transform:translateX(-50%) scaleX(1.3);">2014年12月</span>
<span class="t" style="left:560.15px;top:642px;font-size:8px;color:#222;font-weight:bold;transform:translateX(-50%) scaleX(1.3);">2015年01月</span>
<span class="t" style="left:728.25px;top:642px;font-size:8px;color:#222;font-weight:bold;transform:translateX(-50%) scaleX(1.3);">2015年02月</span>
<span class="t" style="left:896.35px;top:642px;font-size:8px;color:#222;font-weight:bold;transform:translateX(-50%) scaleX(1.3);">2015年03月</span>
<div class="r" style="left:308px;top:658.8px;width:675.6px;height:22.8px;background:#d5dfec;border-radius:11.4px;box-shadow:inset 0 0 0 2px #b9c8dc;"></div>
<span class="t" style="left:1342px;top:370px;font-size:12.31px;color:#000;font-weight:bold;transform:translateX(-50%) scaleX(1.3);">新增缺陷列表</span>
<span class="t" style="left:1091.2px;top:410px;font-size:10.62px;color:#111;font-weight:bold;transform-origin:0 50%;transform:scaleX(1.3);">电站名称</span>
<span class="t" style="left:1238px;top:410px;font-size:8.49px;color:#bbb;transform:translateX(-50%) scaleX(1.3);">⇅</span>
<span class="t" style="left:1265.2px;top:410px;font-size:10.62px;color:#111;font-weight:bold;transform-origin:0 50%;transform:scaleX(1.3);">缺陷地点</span>
<span class="t" style="left:1418px;top:410px;font-size:8.49px;color:#bbb;transform:translateX(-50%) scaleX(1.3);">⇅</span>
<span class="t" style="left:1443.6px;top:410px;font-size:10.62px;color:#111;font-weight:bold;transform-origin:0 50%;transform:scaleX(1.3);">缺陷设备</span>
<span class="t" style="left:1601.6px;top:410px;font-size:8.49px;color:#bbb;transform:translateX(-50%) scaleX(1.3);">⇅</span>
<span class="t" style="left:1091.2px;top:442px;font-size:10.15px;color:#222;transform-origin:0 50%;transform:scaleX(1.3);">2015年04月12日</span>
<span class="t" style="left:1265.2px;top:442px;font-size:10.15px;color:#222;transform-origin:0 50%;transform:scaleX(1.3);">110kV建水变</span>
<span class="t" style="left:1443.6px;top:442px;font-size:10.15px;color:#222;transform-origin:0 50%;transform:scaleX(1.3);">110kV建水变变压器</span>
<div class="r" style="left:265.6px;top:728.8px;width:26px;height:12.8px;background:#1ea3e3;border-radius:3.84px;"></div>
<span class="t" style="left:296.4px;top:730px;font-size:7.54px;color:#222;transform-origin:0 50%;transform:scaleX(1.3);">当年检修</span>
<div class="r" style="left:368px;top:728.8px;width:26px;height:12.8px;background:#8cc21f;border-radius:3.84px;"></div>
<span class="t" style="left:398.8px;top:730px;font-size:7.54px;color:#222;transform-origin:0 50%;transform:scaleX(1.3);">总计检修工程</span>
<div class="r" style="left:467.6px;top:728.8px;width:26.4px;height:12.8px;background:#e8103c;border-radius:3.84px;"></div>
<span class="t" style="left:498.8px;top:730px;font-size:7.54px;color:#222;transform-origin:0 50%;transform:scaleX(1.3);">逾期检修工程</span>
<span class="t" style="left:1259.6px;top:734px;font-size:11.38px;color:#000;font-weight:bold;transform:translateX(-50%) scaleX(1.3);">检修工程统计</span>
<div class="r" style="left:307.2px;top:772.8px;width:1.6px;height:25.2px;background:#777;"></div>
<div class="r" style="left:304px;top:797.2px;width:1254px;height:1.6px;background:#777;"></div>
<div class="r" style="left:303.2px;top:776.2px;width:4.8px;height:1.2px;background:#777;"></div>
<span class="t" style="left:300.8px;top:774px;font-size:6.15px;color:#222;font-weight:bold;transform-origin:100% 50%;transform:translateX(-100%) scaleX(1.3);">2</span>
</div>
</div>
</div>
</body></html>
